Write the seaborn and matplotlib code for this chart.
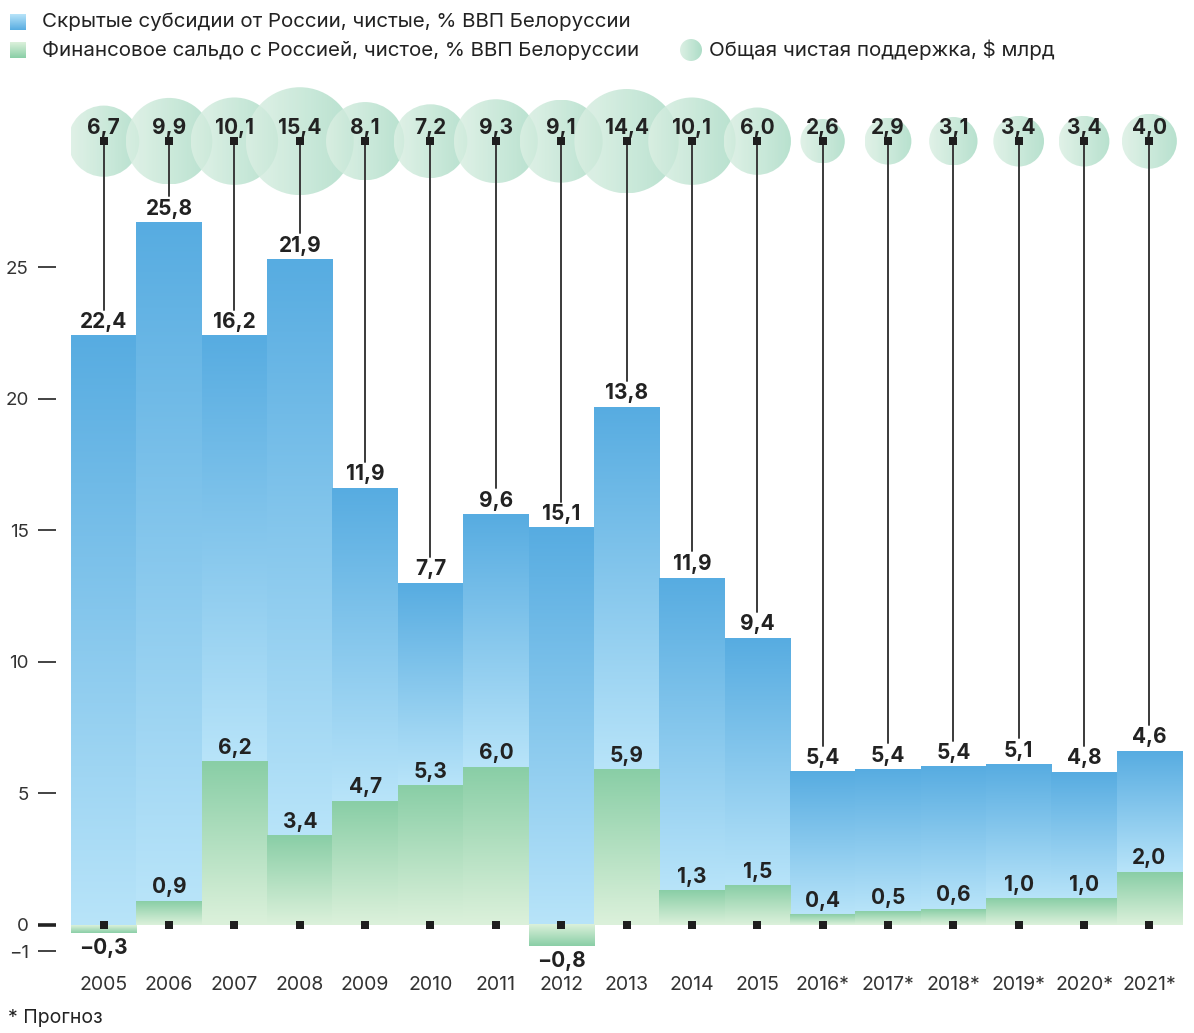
import numpy as np
import pandas as pd
import matplotlib.pyplot as plt
import seaborn as sns
from matplotlib.colors import LinearSegmentedColormap
from matplotlib.patches import Ellipse, Circle

sns.set_theme(style="white")
plt.rcParams['font.family'] = ['Inter', 'DejaVu Sans']

# ------------------------------
# DATA
# ------------------------------
years = ["2005", "2006", "2007", "2008", "2009", "2010", "2011", "2012", "2013",
         "2014", "2015", "2016*", "2017*", "2018*", "2019*", "2020*", "2021*"]
hidden_subsidy = [22.4, 25.8, 16.2, 21.9, 11.9, 7.7, 9.6, 15.1, 13.8,
                  11.9, 9.4, 5.4, 5.4, 5.4, 5.1, 4.8, 4.6]
fin_balance = [-0.3, 0.9, 6.2, 3.4, 4.7, 5.3, 6.0, -0.8, 5.9,
               1.3, 1.5, 0.4, 0.5, 0.6, 1.0, 1.0, 2.0]
total_support = [6.7, 9.9, 10.1, 15.4, 8.1, 7.2, 9.3, 9.1, 14.4,
                 10.1, 6.0, 2.6, 2.9, 3.1, 3.4, 3.4, 4.0]
y_ticks = [-1, 0, 5, 10, 15, 20, 25]

legend_labels = ["Скрытые субсидии от России, чистые, % ВВП Белоруссии",
                 "Финансовое сальдо с Россией, чистое, % ВВП Белоруссии",
                 "Общая чистая поддержка, $ млрд"]

df = pd.DataFrame({"year": years, "subsidy": hidden_subsidy,
                   "balance": fin_balance, "support": total_support})
df["base"] = df["balance"].clip(lower=0)
df["top"] = df["base"] + df["subsidy"]

blue_cmap = LinearSegmentedColormap.from_list("blue", ["#b8e4f9", "#57ace1"])
green_cmap = LinearSegmentedColormap.from_list("green", ["#dcf1db", "#89cea6"])
bubble_cmap = LinearSegmentedColormap.from_list("bub", ["#dcf0e4", "#abdcc6"])

W, H = 1194, 1033
fig = plt.figure(figsize=(W / 100, H / 100), dpi=100)
ax = fig.add_axes([0.0595, 0.0702, 0.9305, 0.8466])
YLIM = (-1.35, 31.9)
XLIM = (-0.5, len(years) - 0.5)
BUBBLE_Y = 29.8

# ------------------------------
# BARS (seaborn draws, gradient painted over each patch)
# ------------------------------
sns.barplot(data=df, x="year", y="top", width=1, color="#7cc0ea", ax=ax)
n_blue = len(ax.patches)
sns.barplot(data=df, x="year", y="balance", width=1, color="#b5e2c4", ax=ax)
blue_patches = ax.patches[:n_blue]
green_patches = ax.patches[n_blue:]

grad = np.linspace(0, 1, 256).reshape(-1, 1)


def paint(patch, y0, y1, cmap, z):
    x = patch.get_x()
    w = patch.get_width()
    ax.imshow(grad, cmap=cmap, extent=(x, x + w, y0, y1), origin="lower",
              aspect="auto", zorder=z, interpolation="bicubic")
    patch.set_visible(False)


for p, b, t in zip(blue_patches, df["base"], df["top"]):
    paint(p, b, t, blue_cmap, 1)
for p, g in zip(green_patches, df["balance"]):
    paint(p, 0, g, green_cmap, 2)

xs = np.arange(len(years))

# ------------------------------
# BUBBLES
# ------------------------------
ax_w_px = 0.9305 * W
ax_h_px = 0.8466 * H
px_x = ax_w_px / (XLIM[1] - XLIM[0])
px_y = ax_h_px / (YLIM[1] - YLIM[0])
bgrad = np.linspace(0, 1, 256).reshape(1, -1)
for i, v in enumerate(total_support):
    d = 27.5 * np.sqrt(v)
    wd, hd = d / px_x, d / px_y
    e = Ellipse((xs[i], BUBBLE_Y), wd, hd, transform=ax.transData)
    im = ax.imshow(bgrad, cmap=bubble_cmap, alpha=0.85, aspect="auto",
                   extent=(xs[i] - wd / 2, xs[i] + wd / 2, BUBBLE_Y - hd / 2, BUBBLE_Y + hd / 2),
                   zorder=3 + i * 0.01, interpolation="bicubic")
    im.set_clip_path(e)

# connector lines
for i, t in enumerate(df["top"]):
    ax.plot([xs[i], xs[i]], [BUBBLE_Y, t + 1.0], color="#3a3a3a", lw=1.4, zorder=4)

ax.scatter(xs, [BUBBLE_Y] * len(xs), marker="s", s=36, color="#1e1e1e", zorder=6, linewidths=0)
ax.scatter(xs, [0] * len(xs), marker="s", s=36, color="#1e1e1e", zorder=6, linewidths=0)


def fmt(v):
    return f"{v:.1f}".replace(".", ",").replace("-", "\u2212")


lab_kw = dict(ha="center", fontsize=15, fontweight="bold", color="#222222", zorder=7)
for i in range(len(xs)):
    ax.text(xs[i], BUBBLE_Y + 0.12, fmt(total_support[i]), va="bottom", **lab_kw)
    ax.text(xs[i], df["top"][i] + 0.15, fmt(hidden_subsidy[i]), va="bottom", **lab_kw)
    g = fin_balance[i]
    if g >= 0:
        ax.text(xs[i], g + 0.15, fmt(g), va="bottom", **lab_kw)
    else:
        ax.text(xs[i], g - 0.2, fmt(g), va="top", **lab_kw)

# ------------------------------
# AXES
# ------------------------------
ax.set_xlim(*XLIM)
ax.set_ylim(*YLIM)
ax.set_yticks(y_ticks)
ax.set_xlabel("")
ax.set_ylabel("")
for s in ax.spines.values():
    s.set_color("none")
ax.spines["left"].set_position(("outward", 11))
ax.tick_params(axis="y", left=True, length=13, width=1.2, color="#222222",
               pad=6.5, labelsize=13.5, labelcolor="#333333")
ax.tick_params(axis="x", length=0, pad=11, labelsize=14, labelcolor="#333333")
for loc, tk in zip(ax.get_yticks(), ax.yaxis.get_major_ticks()):
    if loc == 0:
        tk.tick1line.set_markeredgewidth(2.6)

# ------------------------------
# LEGEND (manual)
# ------------------------------
sw1 = fig.add_axes([10 / W, 1 - 30 / H, 16 / W, 16 / H])
sw1.imshow(grad, cmap=blue_cmap, origin="upper", aspect="auto")
sw1.axis("off")
sw2 = fig.add_axes([10 / W, 1 - 58 / H, 16 / W, 16 / H])
sw2.imshow(grad, cmap=green_cmap, origin="upper", aspect="auto")
sw2.axis("off")
sw3 = fig.add_axes([680 / W, 1 - 61 / H, 22 / W, 22 / H])
im3 = sw3.imshow(bgrad, cmap=bubble_cmap, aspect="auto")
im3.set_clip_path(Circle((0.5, 0.5), 0.5, transform=sw3.transAxes))
sw3.axis("off")

leg_kw = dict(va="center", fontsize=14.8, color="#222222")
fig.text(42 / W, 1 - 22 / H, legend_labels[0], **leg_kw)
fig.text(42 / W, 1 - 50 / H, legend_labels[1], **leg_kw)
fig.text(709 / W, 1 - 50 / H, legend_labels[2], **leg_kw)

fig.text(8 / W, 1 - 1018 / H, "* Прогноз", va="center", fontsize=14, color="#222222")

fig.savefig("out.png", dpi=100)
